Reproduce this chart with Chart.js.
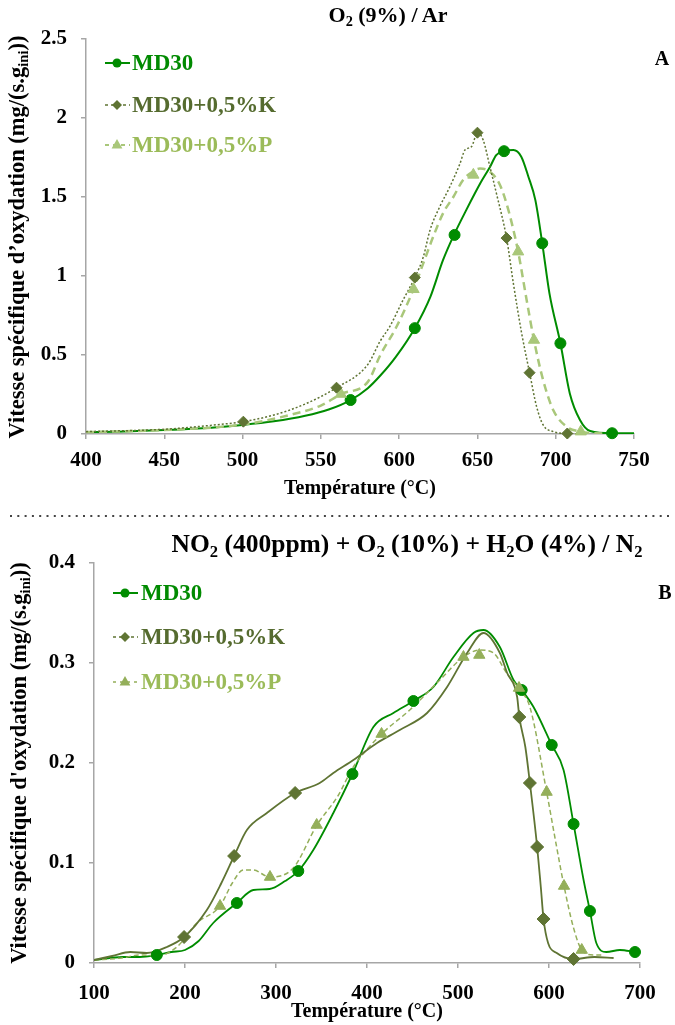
<!DOCTYPE html>
<html><head><meta charset="utf-8">
<script src="https://cdn.jsdelivr.net/npm/chart.js@4/dist/chart.umd.min.js"></script>
<style>
html,body{margin:0;padding:0;background:#fff;}
body{width:675px;height:1025px;position:relative;overflow:hidden;font-family:"Liberation Serif","Times New Roman",serif;color:#000;}
canvas{position:absolute;left:0;}
#c1{top:0;}
#c2{top:520px;}
.title{position:absolute;font-weight:bold;line-height:26px;white-space:nowrap;transform:translateX(-50%);}
.ytitle{position:absolute;width:500px;height:24px;line-height:24px;text-align:center;font-weight:bold;font-size:22.5px;white-space:nowrap;transform:rotate(-90deg);}
sub{font-size:65%;vertical-align:baseline;position:relative;top:0.3em;}
.panel{position:absolute;font-weight:bold;font-size:20px;line-height:20px;transform:translate(-50%,-50%);}
#sep{position:absolute;left:10px;top:514px;}
</style></head>
<body>
<canvas id="c1" width="675" height="510"></canvas>
<canvas id="c2" width="675" height="505"></canvas>
<div class="title" style="left:388px;top:2px;font-size:22px;">O<sub>2</sub> (9%) / Ar</div>
<div class="title" style="left:407px;top:531px;font-size:25.5px;">NO<sub>2</sub> (400ppm) + O<sub>2</sub> (10%) + H<sub>2</sub>O (4%) / N<sub>2</sub></div>
<div class="ytitle" style="left:-233px;top:225px;">Vitesse spécifique d’oxydation (mg/(s.g<sub>ini</sub>))</div>
<div class="ytitle" style="left:-231px;top:751px;">Vitesse spécifique d'oxydation (mg/(s.g<sub>ini</sub>))</div>
<div class="panel" style="left:662px;top:58px;">A</div>
<div class="panel" style="left:665px;top:592px;">B</div>
<svg id="sep" width="660" height="4"><line x1="0" y1="2" x2="660" y2="2" stroke="#444" stroke-width="2" stroke-dasharray="2 5.3"/></svg>
<script>
// ---------- DATA ----------
const seriesNames = ['MD30', 'MD30+0,5%K', 'MD30+0,5%P'];
const xLabel = 'Température (°C)';

// Panel A : O2 (9%) / Ar
const aT_MD30 = [400,420,450,480,500,520,540,555,569,580,588,598,610,620,628,635,643,652,658,662,667,673,678,682.5,687,691.4,696,703,709,715.5,722,736,750];
const aV_MD30 = [0.012,0.015,0.025,0.04,0.057,0.08,0.115,0.155,0.215,0.29,0.37,0.49,0.67,0.87,1.10,1.26,1.42,1.59,1.69,1.765,1.79,1.797,1.755,1.63,1.48,1.207,0.89,0.574,0.257,0.089,0.019,0.005,0.005];
const aT_K = [400,450,480,500,520,540,560,580,588,594,602.6,610,615.4,619.7,626,632.4,638.8,642,646.3,650,653.7,658,662.2,668.6,673,678.2,683.3,687.8,692,698.4,707,718];
const aV_K = [0.015,0.03,0.055,0.078,0.12,0.19,0.293,0.44,0.59,0.68,0.85,0.99,1.12,1.29,1.44,1.565,1.71,1.797,1.82,1.907,1.86,1.69,1.52,1.24,0.95,0.64,0.388,0.173,0.057,0.015,0.003,0.002];
const aT_P = [400,450,500,530,550,563,580,588,598.4,609.2,615.4,621.8,628.2,634.6,641,647,651.6,658,664.4,669.7,676,681.4,686.1,692,698.4,707,716,728,740];
const aV_P = [0.012,0.025,0.06,0.12,0.18,0.253,0.33,0.5,0.68,0.916,1.08,1.25,1.40,1.50,1.61,1.66,1.68,1.66,1.576,1.42,1.154,0.85,0.595,0.34,0.152,0.046,0.015,0.004,0.003];
const aMT_MD30 = [569,610,635.4,667,691.4,703,736];
const aMV_MD30 = [0.215,0.67,1.26,1.79,1.207,0.574,0.005];
const aMT_K = [500.5,560,610,650,668.6,683.3,707.4];
const aMV_K = [0.078,0.293,0.99,1.907,1.24,0.388,0.003];
const aMT_P = [562.8,609.2,647.4,676,686.1,716];
const aMV_P = [0.253,0.916,1.64,1.154,0.595,0.015];

// Panel B : NO2 (400ppm) + O2 (10%) + H2O (4%) / N2
const bT_MD30 = [100,132,150,169,185,200,215,231,257,275,293,310,324.5,341,363,384,407,429,451,473,495,517,528,546,561,570,583,603,616,627,638,645,652,663,678,694.5];
const bV_MD30 = [0.003,0.006,0.006,0.008,0.011,0.013,0.022,0.040,0.060,0.073,0.074,0.082,0.092,0.113,0.150,0.189,0.236,0.250,0.262,0.276,0.306,0.330,0.333,0.316,0.283,0.273,0.256,0.218,0.193,0.139,0.083,0.052,0.020,0.011,0.013,0.011];
const bT_K = [100,120,140,158,180,199,224,240,254,268,290,321,348,363,385,411,436,466,488,510,528,546,554,565,567.4,574,579,587,591,594,599,608.5,627,650,671];
const bV_K = [0.003,0.007,0.011,0.010,0.016,0.026,0.053,0.080,0.107,0.133,0.150,0.170,0.180,0.190,0.203,0.220,0.233,0.250,0.276,0.310,0.330,0.310,0.290,0.266,0.246,0.216,0.180,0.116,0.076,0.044,0.020,0.010,0.004,0.006,0.005];
const bT_P = [100,130,150.5,169,191,213,238.5,252,264,275,293,319,345,368,385,416,447,480,506,524,539,553.5,568,579,597.4,608.4,616.5,626.7,636,649,660];
const bV_P = [0.003,0.005,0.008,0.007,0.016,0.040,0.057,0.080,0.093,0.093,0.086,0.095,0.138,0.167,0.196,0.229,0.253,0.283,0.306,0.313,0.310,0.290,0.273,0.256,0.171,0.116,0.077,0.036,0.013,0.008,0.008];
const bMT_MD30 = [169,257,324.5,384,451,570,603,627,645,694.5];
const bMV_MD30 = [0.008,0.060,0.092,0.189,0.262,0.273,0.218,0.139,0.052,0.011];
const bMT_K = [199,254,321,567.4,579,587,594,627];
const bMV_K = [0.026,0.107,0.170,0.246,0.180,0.116,0.044,0.004];
const bMT_P = [238.5,293.4,344.7,416,506,523.4,567,597.4,616.5,636];
const bMV_P = [0.057,0.086,0.138,0.229,0.306,0.308,0.275,0.171,0.077,0.013];

// ---------- STYLE ----------
const FONT = "'Liberation Serif','Times New Roman',serif";
const cMD30 = '#008C00', cK = '#5F7433', cPa = '#A9C77A', cPb = '#94AF5A';
const tMD30 = '#008A00', tK = '#556B2F', tP = '#9BBB59';
const axisColor = '#A6A6A6';

function pts(xs, ys){ return xs.map((x,i)=>({x:x, y:ys[i]})); }

function lineDs(xs, ys, color, width, dash){
  return {data: pts(xs, ys), showLine:true, borderColor:color, borderWidth:width, borderDash:dash,
    pointRadius:0, pointHoverRadius:0, cubicInterpolationMode:'monotone', fill:false, order:2};
}
function markDs(xs, ys, color, style, r){
  return {data: pts(xs, ys), showLine:false, pointStyle:style, pointRadius:r, pointHoverRadius:r,
    backgroundColor:color, borderColor:color, borderWidth:1, clip:false, order:1};
}

function drawMarker(ctx, style, x, y, r, color){
  ctx.fillStyle = color;
  ctx.beginPath();
  if (style === 'circle') { ctx.arc(x, y, r, 0, Math.PI*2); }
  else if (style === 'rectRot') { ctx.moveTo(x, y-r); ctx.lineTo(x+r, y); ctx.lineTo(x, y+r); ctx.lineTo(x-r, y); ctx.closePath(); }
  else { ctx.moveTo(x, y-r); ctx.lineTo(x+r*0.9, y+r*0.6); ctx.lineTo(x-r*0.9, y+r*0.6); ctx.closePath(); }
  ctx.fill();
}

const legendPlugin = {
  id: 'customLegend',
  afterDraw(chart, args, opts){
    if (!opts || !opts.items) return;
    const ctx = chart.ctx;
    opts.items.forEach((it, i) => {
      const y = opts.ys[i];
      ctx.save();
      ctx.strokeStyle = it.color; ctx.lineWidth = it.lw; ctx.setLineDash(it.dash);
      ctx.beginPath(); ctx.moveTo(opts.x0, y); ctx.lineTo(opts.x1, y); ctx.stroke();
      ctx.setLineDash([]);
      drawMarker(ctx, it.style, opts.xm, y, it.r, it.color);
      ctx.fillStyle = it.textColor;
      ctx.font = 'bold 23px ' + FONT;
      ctx.textBaseline = 'middle'; ctx.textAlign = 'left';
      ctx.fillText(it.label, opts.xt, y + 1);
      ctx.restore();
    });
  }
};

function fmt(v){ return String(Math.round(v * 100) / 100); }

function scales(xmin, xmax, xstep, ymax, ystep, yWidth, xHeight, xPad, titlePad){
  return {
    x: {type:'linear', min:xmin, max:xmax,
      ticks:{stepSize:xstep, padding:xPad, color:'#000', font:{family:FONT, size:21, weight:'bold'}, maxRotation:0, autoSkip:false, callback:fmt},
      grid:{display:true, drawOnChartArea:false, drawTicks:true, tickLength:5, color:axisColor, lineWidth:1.5},
      border:{display:true, color:axisColor, width:1.5},
      title:{display:true, text:xLabel, color:'#000', font:{family:FONT, size:20, weight:'bold'}, padding:{top:0, bottom:titlePad}},
      afterFit(s){ s.height = xHeight; }
    },
    y: {type:'linear', min:0, max:ymax,
      ticks:{stepSize:ystep, padding:14, color:'#000', font:{family:FONT, size:21, weight:'bold'}, callback:fmt},
      grid:{display:true, drawOnChartArea:false, drawTicks:true, tickLength:5, color:axisColor, lineWidth:1.5},
      border:{display:true, color:axisColor, width:1.5},
      afterFit(s){ s.width = yWidth; }
    }
  };
}

Chart.defaults.font.family = FONT;

new Chart(document.getElementById('c1'), {
  type:'scatter',
  data:{datasets:[
    lineDs(aT_K, aV_K, cK, 1.5, [2,2]),
    lineDs(aT_P, aV_P, cPa, 2.5, [8,5]),
    lineDs(aT_MD30, aV_MD30, cMD30, 2, []),
    markDs(aMT_K, aMV_K, cK, 'rectRot', 5.5),
    markDs(aMT_P, aMV_P, cPa, 'triangle', 6.5),
    markDs(aMT_MD30, aMV_MD30, cMD30, 'circle', 5.5)
  ]},
  options:{
    responsive:false, animation:false, devicePixelRatio:1,
    layout:{padding:{left:0, right:41, top:39, bottom:0}},
    plugins:{legend:{display:false}, tooltip:{enabled:false},
      customLegend:{x0:105, x1:130, xm:117, xt:132, ys:[63,105,145], items:[
        {label:seriesNames[0], color:cMD30, textColor:tMD30, lw:2, dash:[], style:'circle', r:4.5},
        {label:seriesNames[1], color:cK, textColor:tK, lw:1.5, dash:[3,3], style:'rectRot', r:5},
        {label:seriesNames[2], color:cPa, textColor:tP, lw:2, dash:[4,4], style:'triangle', r:6}
      ]}},
    scales: scales(400, 750, 50, 2.5, 0.5, 86, 76, 9, 9)
  },
  plugins:[legendPlugin]
});

new Chart(document.getElementById('c2'), {
  type:'scatter',
  data:{datasets:[
    lineDs(bT_K, bV_K, cK, 1.8, []),
    lineDs(bT_P, bV_P, cPb, 1.5, [5,3]),
    lineDs(bT_MD30, bV_MD30, cMD30, 1.8, []),
    markDs(bMT_K, bMV_K, cK, 'rectRot', 6.5),
    markDs(bMT_P, bMV_P, cPb, 'triangle', 6.5),
    markDs(bMT_MD30, bMV_MD30, cMD30, 'circle', 5.5)
  ]},
  options:{
    responsive:false, animation:false, devicePixelRatio:1,
    layout:{padding:{left:0, right:35, top:43, bottom:0}},
    plugins:{legend:{display:false}, tooltip:{enabled:false},
      customLegend:{x0:113, x1:138, xm:125, xt:141, ys:[73,117,162], items:[
        {label:seriesNames[0], color:cMD30, textColor:tMD30, lw:2, dash:[], style:'circle', r:4.5},
        {label:seriesNames[1], color:cK, textColor:tK, lw:1.5, dash:[3,3], style:'rectRot', r:5},
        {label:seriesNames[2], color:cPb, textColor:tP, lw:1.5, dash:[3,4], style:'triangle', r:6}
      ]}},
    scales: scales(100, 700, 100, 0.4, 0.1, 94, 62, 13, 1)
  },
  plugins:[legendPlugin]
});
</script>
</body></html>
